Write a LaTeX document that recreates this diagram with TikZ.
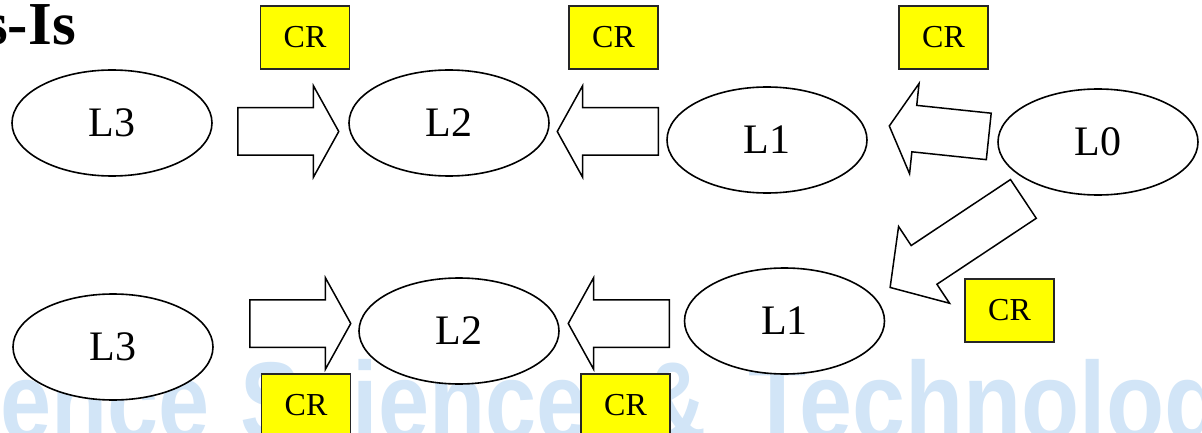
\documentclass[tikz,border=0pt]{standalone}
\usepackage{fontspec}
\setmainfont{Liberation Serif}
\newfontfamily\wmfont{Liberation Sans}
\usetikzlibrary{shapes.geometric,shapes.arrows}
\definecolor{crfill}{RGB}{255,255,0}
\definecolor{wmblue}{RGB}{210,229,247}
\begin{document}
\begin{tikzpicture}[x=1pt,y=-1pt,
    lvl/.style={ellipse,draw,fill=white,line width=1.6pt,minimum
        width=200pt,minimum height=106pt,inner sep=0pt,
        font=\fontsize{42}{42}\selectfont},
    crbox/.style={draw=black!85,fill=crfill,line width=1.4pt,minimum
        width=89pt,minimum height=63pt,inner sep=0pt,
        font=\fontsize{32}{32}\selectfont},
    blk/.style={single arrow,draw,fill=white,line width=1.5pt,inner
        xsep=0pt,inner ysep=23pt,single arrow head extend=22pt,
        single arrow tip angle=122,minimum height=101pt,anchor=tail},
    wm/.style={text=wmblue,inner sep=0pt,anchor=base west,
        font=\wmfont\bfseries\fontsize{112}{112}\selectfont}]

    \useasboundingbox (0,0) rectangle (1202,433);

    % the watermark
    \node[wm,anchor=base east] (wmone) at (210,440)
    {\scalebox{0.82}[1]{ence}};
    \node[wm] (wmtwo) at (240,440) {\scalebox{0.82}[1]{Science}};
    \node[wm] (wmthree) at (640,440) {\scalebox{0.82}[1]{\&}};
    \node[wm] (wmfour) at (748,440) {\scalebox{0.85}[1]{Technolog}};

    % the title
    \node[inner sep=0pt,anchor=base east,
    font=\bfseries\fontsize{61}{61}\selectfont] (title) at (76,45)
    {s-Is};

    % the levels
    \node[lvl] (lthreea) at (112,123) {L3};
    \node[lvl] (ltwoa) at (449,123) {L2};
    \node[lvl] (lonea) at (767,140) {L1};
    \node[lvl] (lzero) at (1098,142) {L0};
    \node[lvl] (lthreeb) at (113,347) {L3};
    \node[lvl] (ltwob) at (459,331) {L2};
    \node[lvl] (loneb) at (784.5,321) {L1};

    % the CR boxes
    \node[crbox] (cra) at (305,37.5) {CR};
    \node[crbox] (crb) at (613.5,37.5) {CR};
    \node[crbox] (crc) at (943.5,37.5) {CR};
    \node[crbox] (crd) at (1009.5,310.5) {CR};
    \node[crbox] (cre) at (306,405.5) {CR};
    \node[crbox] (crf) at (625.5,405.5) {CR};

    % the block arrows
    \node[blk] (arra) at (237,131.5) {};
    \node[blk,rotate=180] (arrb) at (659,131.5) {};
    \node[blk,rotate=174,minimum height=100pt,inner ysep=22.6pt]
    (arrc) at (989.5,136.5) {};
    \node[blk,rotate=213.6,minimum height=160pt,inner ysep=22.5pt,
    single arrow head extend=22.8pt,single arrow tip angle=97]
    (arrd) at (1024,198.5) {};
    \node[blk] (arre) at (249,323.5) {};
    \node[blk,rotate=180] (arrf) at (670,323.5) {};
  \end{tikzpicture}
\end{document}
